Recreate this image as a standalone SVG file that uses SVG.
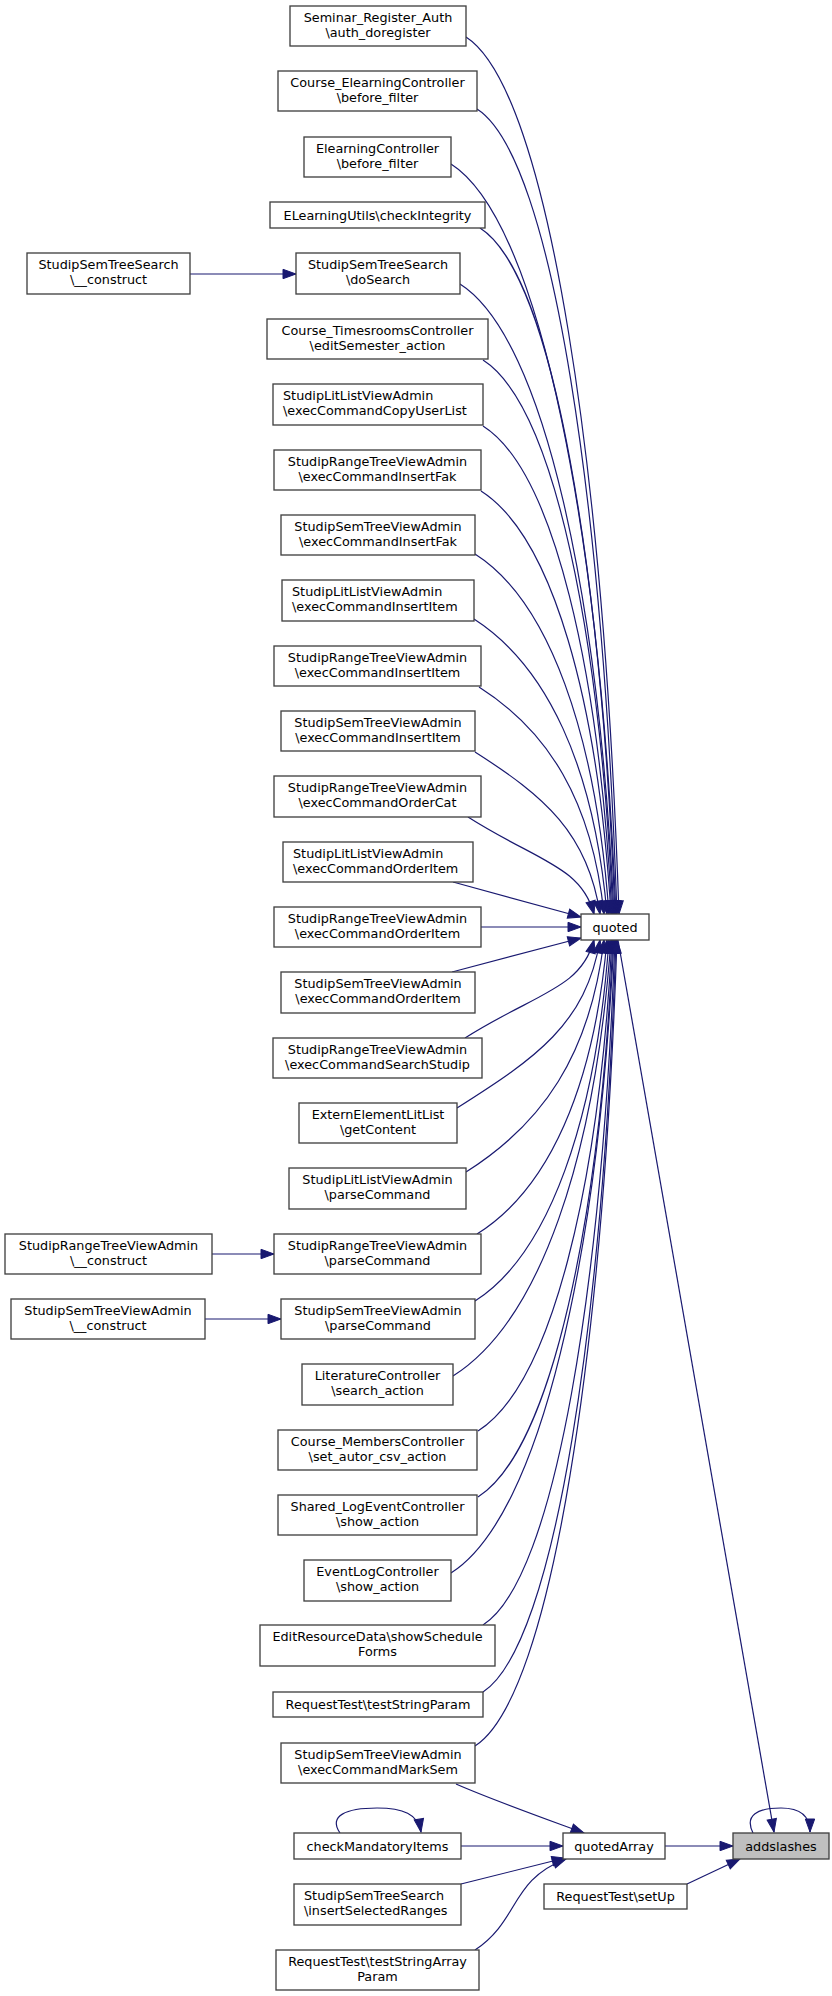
<svg xmlns="http://www.w3.org/2000/svg" width="832" height="1996" viewBox="0 0 832 1996">
<style>
.n rect{fill:#ffffff;stroke:#404040;stroke-width:1.33}
.n text{font-family:"DejaVu Sans","Liberation Sans",sans-serif;font-size:12.8px;fill:#000000;text-anchor:middle}
.n text.l{text-anchor:start}
#addslashes rect{fill:#bfbfbf}
.e path{fill:none;stroke:#191970;stroke-width:1.2;marker-end:url(#ah)}
</style>
<defs>
<marker id="ah" markerWidth="14" markerHeight="10" refX="13" refY="5" orient="auto" markerUnits="userSpaceOnUse" overflow="visible">
<path d="M0,0.3 L13,5 L0,9.7 z" fill="#191970" stroke="#191970" stroke-width="1"/>
</marker>
</defs>
<rect width="832" height="1996" fill="#ffffff"/>
<g id="edges" class="e">
<path d="M466,37 C550,91 604,476 619,914"/>
<path d="M477,109 C554,158 603,512 617,914"/>
<path d="M451,164 C542,222 600,539 616,914"/>
<path d="M480,228 C554,275 601,571 615,914"/>
<path d="M460,284 C545,338 599,599 614,914"/>
<path d="M483,360 C555,406 600,637 613,914"/>
<path d="M483,426 C554,471 599,670 612,914"/>
<path d="M481,491 C553,537 598,702 611,914"/>
<path d="M475,554 C549,601 596,734 609,914"/>
<path d="M474,619 C547,666 594,766 607,914"/>
<path d="M479,687 C548,731 592,800 604,914"/>
<path d="M475,752 C544,796 588,833 600,914"/>
<path d="M468,817 C537,861 581,866 594,914"/>
<path d="M453,882 L581,917"/>
<path d="M481,927 L581,927"/>
<path d="M452,972 L581,938"/>
<path d="M465,1038 C536,993 581,989 594,940"/>
<path d="M457,1108 C536,1058 586,1024 600,940"/>
<path d="M466,1172 C542,1124 590,1056 604,940"/>
<path d="M477,1234 C549,1189 594,1087 607,940"/>
<path d="M475,1301 C549,1254 596,1120 609,940"/>
<path d="M453,1376 C540,1321 595,1158 611,940"/>
<path d="M478,1431 C552,1384 599,1185 612,940"/>
<path d="M478,1497 C552,1450 600,1218 613,940"/>
<path d="M451,1573 C541,1516 598,1256 614,940"/>
<path d="M483,1625 C556,1579 602,1282 615,940"/>
<path d="M483,1692 C556,1645 603,1316 616,940"/>
<path d="M475,1746 C553,1696 603,1343 617,940"/>
<path d="M618,940 L774,1832"/>
<path d="M753,1833 C744,1815 758,1808 781,1808 C800,1808 810,1815 810,1832"/>
<path d="M687,1884 L740,1859"/>
<path d="M665,1846 L733,1846"/>
<path d="M456,1784 C490,1799 535,1815 584,1833"/>
<path d="M461,1846 L563,1846"/>
<path d="M461,1884 L565,1858"/>
<path d="M475,1950 C520,1920 510,1880 566,1859"/>
<path d="M340,1833 C328,1816 346,1808 377,1808 C403,1808 418,1814 421,1832"/>
<path d="M190,274 L296,274"/>
<path d="M212,1254 L274,1254"/>
<path d="M205,1319 L281,1319"/>
</g>
<g id="n1" class="n"><rect x="290" y="6" width="176" height="40"/><text x="378" y="22">Seminar_Register_Auth</text><text x="378" y="37">\auth_doregister</text></g>
<g id="n2" class="n"><rect x="278" y="71" width="199" height="40"/><text x="377.5" y="87">Course_ElearningController</text><text x="377.5" y="102">\before_filter</text></g>
<g id="n3" class="n"><rect x="304" y="137" width="147" height="40"/><text x="377.5" y="153">ElearningController</text><text x="377.5" y="168">\before_filter</text></g>
<g id="n4" class="n"><rect x="270" y="202" width="215" height="26"/><text x="377.5" y="219.5">ELearningUtils\checkIntegrity</text></g>
<g id="n5" class="n"><rect x="27" y="253" width="163" height="41"/><text x="108.5" y="269">StudipSemTreeSearch</text><text x="108.5" y="284">\__construct</text></g>
<g id="n6" class="n"><rect x="296" y="253" width="164" height="41"/><text x="378" y="269">StudipSemTreeSearch</text><text x="378" y="284">\doSearch</text></g>
<g id="n7" class="n"><rect x="267" y="319" width="221" height="40"/><text x="377.5" y="335">Course_TimesroomsController</text><text x="377.5" y="350">\editSemester_action</text></g>
<g id="n8" class="n"><rect x="273" y="384" width="210" height="41"/><text class="l" x="283" y="400">StudipLitListViewAdmin</text><text class="l" x="283" y="415">\execCommandCopyUserList</text></g>
<g id="n9" class="n"><rect x="274" y="450" width="207" height="40"/><text x="377.5" y="466">StudipRangeTreeViewAdmin</text><text x="377.5" y="481">\execCommandInsertFak</text></g>
<g id="n10" class="n"><rect x="281" y="515" width="194" height="40"/><text x="378" y="531">StudipSemTreeViewAdmin</text><text x="378" y="546">\execCommandInsertFak</text></g>
<g id="n11" class="n"><rect x="282" y="580" width="192" height="41"/><text class="l" x="292" y="596">StudipLitListViewAdmin</text><text class="l" x="292" y="611">\execCommandInsertItem</text></g>
<g id="n12" class="n"><rect x="274" y="646" width="207" height="40"/><text x="377.5" y="662">StudipRangeTreeViewAdmin</text><text x="377.5" y="677">\execCommandInsertItem</text></g>
<g id="n13" class="n"><rect x="281" y="711" width="194" height="40"/><text x="378" y="727">StudipSemTreeViewAdmin</text><text x="378" y="742">\execCommandInsertItem</text></g>
<g id="n14" class="n"><rect x="274" y="776" width="207" height="41"/><text x="377.5" y="792">StudipRangeTreeViewAdmin</text><text x="377.5" y="807">\execCommandOrderCat</text></g>
<g id="n15" class="n"><rect x="283" y="842" width="190" height="40"/><text class="l" x="293" y="858">StudipLitListViewAdmin</text><text class="l" x="293" y="873">\execCommandOrderItem</text></g>
<g id="n16" class="n"><rect x="274" y="907" width="207" height="40"/><text x="377.5" y="923">StudipRangeTreeViewAdmin</text><text x="377.5" y="938">\execCommandOrderItem</text></g>
<g id="quoted" class="n"><rect x="581" y="914" width="68" height="26"/><text x="615" y="931.5">quoted</text></g>
<g id="n18" class="n"><rect x="281" y="972" width="194" height="41"/><text x="378" y="988">StudipSemTreeViewAdmin</text><text x="378" y="1003">\execCommandOrderItem</text></g>
<g id="n19" class="n"><rect x="273" y="1038" width="209" height="40"/><text x="377.5" y="1054">StudipRangeTreeViewAdmin</text><text x="377.5" y="1069">\execCommandSearchStudip</text></g>
<g id="n20" class="n"><rect x="299" y="1103" width="158" height="40"/><text x="378" y="1119">ExternElementLitList</text><text x="378" y="1134">\getContent</text></g>
<g id="n21" class="n"><rect x="289" y="1168" width="177" height="41"/><text x="377.5" y="1184">StudipLitListViewAdmin</text><text x="377.5" y="1199">\parseCommand</text></g>
<g id="n22" class="n"><rect x="5" y="1234" width="207" height="40"/><text x="108.5" y="1250">StudipRangeTreeViewAdmin</text><text x="108.5" y="1265">\__construct</text></g>
<g id="n23" class="n"><rect x="274" y="1234" width="207" height="40"/><text x="377.5" y="1250">StudipRangeTreeViewAdmin</text><text x="377.5" y="1265">\parseCommand</text></g>
<g id="n24" class="n"><rect x="11" y="1299" width="194" height="40"/><text x="108" y="1315">StudipSemTreeViewAdmin</text><text x="108" y="1330">\__construct</text></g>
<g id="n25" class="n"><rect x="281" y="1299" width="194" height="40"/><text x="378" y="1315">StudipSemTreeViewAdmin</text><text x="378" y="1330">\parseCommand</text></g>
<g id="n26" class="n"><rect x="302" y="1364" width="151" height="41"/><text x="377.5" y="1380">LiteratureController</text><text x="377.5" y="1395">\search_action</text></g>
<g id="n27" class="n"><rect x="278" y="1430" width="199" height="40"/><text x="377.5" y="1446">Course_MembersController</text><text x="377.5" y="1461">\set_autor_csv_action</text></g>
<g id="n28" class="n"><rect x="278" y="1495" width="199" height="40"/><text x="377.5" y="1511">Shared_LogEventController</text><text x="377.5" y="1526">\show_action</text></g>
<g id="n29" class="n"><rect x="304" y="1560" width="147" height="41"/><text x="377.5" y="1576">EventLogController</text><text x="377.5" y="1591">\show_action</text></g>
<g id="n30" class="n"><rect x="260" y="1625" width="235" height="41"/><text x="377.5" y="1641">EditResourceData\showSchedule</text><text x="377.5" y="1656">Forms</text></g>
<g id="n31" class="n"><rect x="273" y="1692" width="210" height="25"/><text x="378" y="1709">RequestTest\testStringParam</text></g>
<g id="n32" class="n"><rect x="281" y="1743" width="194" height="40"/><text x="378" y="1759">StudipSemTreeViewAdmin</text><text x="378" y="1774">\execCommandMarkSem</text></g>
<g id="n33" class="n"><rect x="294" y="1833" width="167" height="26"/><text x="377.5" y="1850.5">checkMandatoryItems</text></g>
<g id="quotedArray" class="n"><rect x="563" y="1833" width="102" height="26"/><text x="614" y="1850.5">quotedArray</text></g>
<g id="addslashes" class="n"><rect x="733" y="1833" width="96" height="26"/><text x="781" y="1850.5">addslashes</text></g>
<g id="n36" class="n"><rect x="294" y="1884" width="167" height="41"/><text class="l" x="304" y="1900">StudipSemTreeSearch</text><text class="l" x="304" y="1915">\insertSelectedRanges</text></g>
<g id="n37" class="n"><rect x="544" y="1884" width="143" height="25"/><text x="615.5" y="1901">RequestTest\setUp</text></g>
<g id="n38" class="n"><rect x="276" y="1950" width="203" height="40"/><text x="377.5" y="1966">RequestTest\testStringArray</text><text x="377.5" y="1981">Param</text></g>
</svg>
